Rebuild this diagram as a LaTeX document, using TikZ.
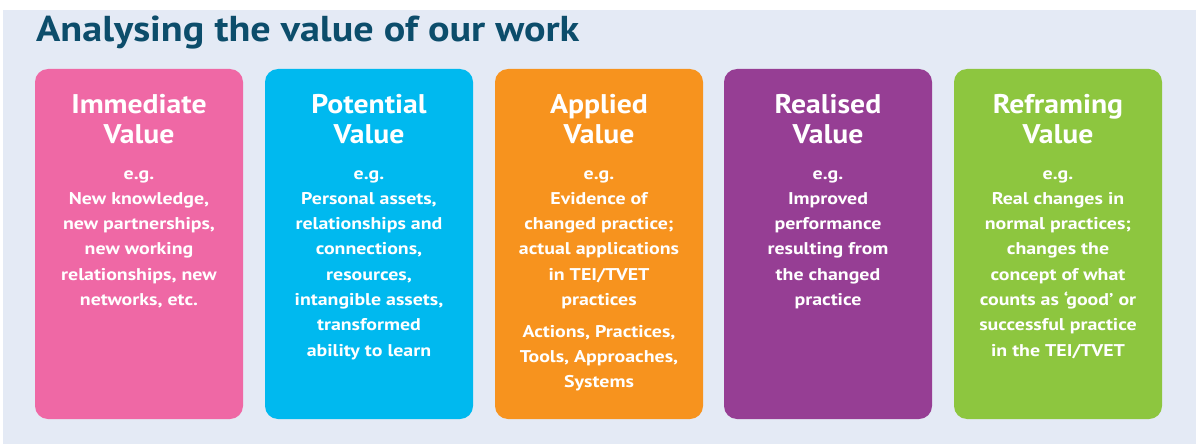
\documentclass[tikz,border=0pt]{standalone}
\usepackage{fontspec}
\setmainfont{PT Sans}
\newfontfamily\titlefont{PT Sans}[FakeStretch=1.115]
\newfontfamily\headfont{PT Sans}[FakeStretch=1.1]
\newfontfamily\bodyfont{PT Sans}[FakeStretch=1.17]
\definecolor{bgc}{RGB}{228,234,245}
\definecolor{titlec}{RGB}{12,77,107}
\definecolor{pinkc}{RGB}{239,104,165}
\definecolor{bluec}{RGB}{0,185,239}
\definecolor{orangec}{RGB}{247,147,30}
\definecolor{purplec}{RGB}{150,62,148}
\definecolor{greenc}{RGB}{141,198,63}
\tikzset{
  valbox/.style={rectangle, rounded corners=13pt, minimum width=208pt, minimum height=350pt, inner sep=0pt, fill=#1},
  headtxt/.style={anchor=base, align=center, inner sep=0pt, text=white, font=\headfont\fontsize{27}{30}\selectfont\bfseries},
  bodytxt/.style={anchor=base, align=center, inner sep=0pt, text=white, font=\bodyfont\fontsize{17}{25.3}\selectfont\bfseries},
  titletxt/.style={anchor=base west, inner sep=0pt, text=titlec, font=\titlefont\fontsize{36}{40}\selectfont\bfseries}
}
\begin{document}
\begin{tikzpicture}[x=1pt,y=-1pt]
\useasboundingbox (0,0) rectangle (1196,444);
\fill[bgc] (3,10) rectangle (1196,444);
\node[titletxt] (title) at (36,42) {Analysing the value of our work};
% boxes
\node[valbox=pinkc]   (b1) at (139,244) {};
\node[valbox=bluec]   (b2) at (369,244) {};
\node[valbox=orangec] (b3) at (599,244) {};
\node[valbox=purplec] (b4) at (828,244) {};
\node[valbox=greenc]  (b5) at (1058,244) {};
% headings (anchor base = baseline of the last line)
\node[headtxt] (h1) at (139,143) {Immediate\\Value};
\node[headtxt] (h2) at (369,143) {Potential\\Value};
\node[headtxt] (h3) at (599,143) {Applied\\Value};
\node[headtxt] (h4) at (828,143) {Realised\\Value};
\node[headtxt] (h5) at (1058,143) {Reframing\\Value};
% bodies (anchor base = baseline of the last line)
\node[bodytxt] (t1) at (139,305.5) {e.g.\\New knowledge,\\new partnerships,\\new working\\relationships, new\\networks, etc.};
\node[bodytxt] (t2) at (369,356.1) {e.g.\\Personal assets,\\relationships and\\connections,\\resources,\\intangible assets,\\transformed\\ability to learn};
\node[bodytxt] (t3) at (599,305.5) {e.g.\\Evidence of\\changed practice;\\actual applications\\in TEI/TVET\\practices};
\node[bodytxt] (t3b) at (599,387.6) {Actions, Practices,\\Tools, Approaches,\\Systems};
\node[bodytxt] (t4) at (828,305.5) {e.g.\\Improved\\performance\\resulting from\\the changed\\practice};
\node[bodytxt] (t5) at (1058,356.1) {e.g.\\Real changes in\\normal practices;\\changes the\\concept of what\\counts as ‘good’ or\\successful practice\\in the TEI/TVET};
\end{tikzpicture}
\end{document}
